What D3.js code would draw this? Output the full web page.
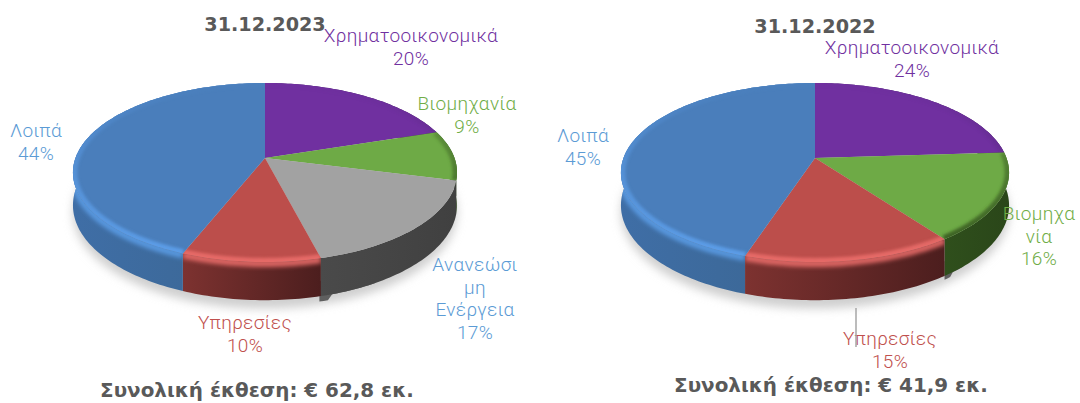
<!DOCTYPE html>
<html>
<head>
<meta charset="utf-8">
<script src="https://cdn.jsdelivr.net/npm/d3@7"></script>
<style>
  html, body { margin: 0; padding: 0; background: #fff; }
  svg { display: block; }
</style>
</head>
<body>
<svg id="vis"></svg>
<script>
const WIDTH = 1080;
const HEIGHT = 403;

const titulos = ["31.12.2023", "31.12.2022"];
const totales = ["Συνολική έκθεση: € 62,8 εκ.", "Συνολική έκθεση: € 41,9 εκ."];

const categorias2023 = ["Χρηματοοικονομικά", "Βιομηχανία", "Ανανεώσιμη Ενέργεια", "Υπηρεσίες", "Λοιπά"];
const valores2023 = [20, 9, 17, 10, 44];
const etiquetas2023 = [
  ["Χρηματοοικονομικά", "20%"],
  ["Βιομηχανία", "9%"],
  ["Ανανεώσι", "μη", "Ενέργεια", "17%"],
  ["Υπηρεσίες", "10%"],
  ["Λοιπά", "44%"],
];

const categorias2022 = ["Χρηματοοικονομικά", "Βιομηχανία", "Υπηρεσίες", "Λοιπά"];
const valores2022 = [24, 16, 15, 45];
const etiquetas2022 = [
  ["Χρηματοοικονομικά", "24%"],
  ["Βιομηχα", "νία", "16%"],
  ["Υπηρεσίες", "15%"],
  ["Λοιπά", "45%"],
];

const ESTILOS = {
  "Χρηματοοικονομικά": { top: "#7030a0", wall: ["#4a2070", "#3a1858"], rim: "#4c1f70", rimOp: 0.5, brillo: 0, label: "#7030a0" },
  "Βιομηχανία": { top: "#6eaa46", wall: ["#2f4f1c", "#2a4619"], rim: "#33551d", rimOp: 0.9, brillo: 0, label: "#70ad47" },
  "Ανανεώσιμη Ενέργεια": { top: "#a2a2a2", wall: ["#4a4a4a", "#404040"], rim: "#a2a2a2", rimOp: 0, brillo: 0, label: "#5b9bd5" },
  "Υπηρεσίες": { top: "#bc4e4b", wall: ["#7d3230", "#4c1e1e"], rim: "#ea6d6a", rimOp: 0.9, brillo: 0.9, label: "#c0504d" },
  "Λοιπά": { top: "#4a7ebb", wall: ["#3f6ea6", "#3b6692"], rim: "#5b9ce6", rimOp: 1, brillo: 0.9, label: "#5b9bd5" },
};

const GRAFICOS = [
  {
    cx: 265, categorias: categorias2023, valores: valores2023, etiquetas: etiquetas2023,
    titulo: titulos[0], tituloX: 265, tituloY: 31, total: totales[0], totalX: 257, totalY: 397,
    pos: [[411, 42], [467, 110], [475, 271], [245, 329], [36, 137]],
    Rx: 189.5, muesca: { a0: 150, a1: 166, extra: 1.14 },
  },
  {
    cx: 815, categorias: categorias2022, valores: valores2022, etiquetas: etiquetas2022,
    titulo: titulos[1], tituloX: 815, tituloY: 33, total: totales[1], totalX: 831, totalY: 392,
    pos: [[912, 54], [1039, 220], [890, 345], [583, 142]],
    Rx: 191.5, muesca: { a0: 137, a1: 144, extra: 1.1 },
  },
];

const CY = 158;
const RY = 87.15;
const K = 0.162; // perspectiva del disco
const PROFUNDIDAD = 32;

const svg = d3.select("#vis").attr("width", WIDTH).attr("height", HEIGHT);
const defs = svg.append("defs");

function crearBlur(id, sd) {
  defs.append("filter").attr("id", id)
    .attr("filterUnits", "userSpaceOnUse")
    .attr("x", 0).attr("y", 0).attr("width", WIDTH).attr("height", HEIGHT)
    .append("feGaussianBlur").attr("stdDeviation", sd);
}
crearBlur("blurRim", 1.8);
crearBlur("blurBrillo", 2.2);
crearBlur("blurSombra", 5);

// mascara vertical: el brillo del borde crece hacia el frente del disco
const gradRim = defs.append("linearGradient").attr("id", "fadeRim")
  .attr("gradientUnits", "userSpaceOnUse")
  .attr("x1", 0).attr("x2", 0).attr("y1", 90).attr("y2", 250);
gradRim.append("stop").attr("offset", "0%").attr("stop-color", "#fff").attr("stop-opacity", 0.05);
gradRim.append("stop").attr("offset", "50%").attr("stop-color", "#fff").attr("stop-opacity", 0.6);
gradRim.append("stop").attr("offset", "100%").attr("stop-color", "#fff").attr("stop-opacity", 1);
const mask = defs.append("mask").attr("id", "maskRim").attr("maskUnits", "userSpaceOnUse")
  .attr("x", 0).attr("y", 0).attr("width", WIDTH).attr("height", HEIGHT);
mask.append("rect").attr("width", WIDTH).attr("height", HEIGHT).attr("fill", "url(#fadeRim)");

function proyectar(g, angulo, r, z) {
  const u = r * Math.sin(angulo);
  const v = -r * Math.cos(angulo);
  const w = 1 - K * v;
  return [g.cx + (g.Rx * u) / w, CY + (RY * v) / w + (z * PROFUNDIDAD) / w];
}

function muestras(a0, a1) {
  const n = Math.max(2, Math.ceil(Math.abs(a1 - a0) / 0.02));
  return d3.range(n + 1).map((i) => a0 + ((a1 - a0) * i) / n);
}

const linea = d3.line().curve(d3.curveLinear);

function dibujar(g, idx) {
  const cont = svg.append("g");
  const pie = d3.pie().sort(null).value((d) => d)(g.valores);

  // sombra
  cont.append("path")
    .attr("d", linea(muestras(0, 2 * Math.PI).map((a) => proyectar(g, a, 1.0, 1.22))) + "Z")
    .attr("fill", "#cfcfcf")
    .attr("filter", "url(#blurSombra)");

  // muesca que asoma bajo la pared
  const m = g.muesca;
  const a0m = (m.a0 * Math.PI) / 180;
  const a1m = (m.a1 * Math.PI) / 180;
  cont.append("path")
    .attr("d", linea([
      ...muestras(a0m, a1m).map((a) => proyectar(g, a, 1, 0.6)),
      ...muestras(a1m, a0m).map((a) => proyectar(g, a, 1, a > a1m - 0.05 ? m.extra : 1)),
    ]) + "Z")
    .attr("fill", "#5f5f5f");

  // paredes
  pie.forEach((d, i) => {
    const est = ESTILOS[g.categorias[i]];
    const arriba = muestras(d.startAngle, d.endAngle).map((a) => proyectar(g, a, 1, 0));
    const abajo = muestras(d.endAngle, d.startAngle).map((a) => proyectar(g, a, 1, 1));
    const xs = arriba.map((p) => p[0]);
    const id = `pared${idx}_${i}`;
    const grad = defs.append("linearGradient").attr("id", id)
      .attr("gradientUnits", "userSpaceOnUse")
      .attr("x1", d3.min(xs)).attr("x2", d3.max(xs)).attr("y1", 0).attr("y2", 0);
    grad.append("stop").attr("offset", "0%").attr("stop-color", est.wall[0]);
    grad.append("stop").attr("offset", "100%").attr("stop-color", est.wall[1]);
    const forma = linea([...arriba, ...abajo]) + "Z";
    cont.append("path").attr("d", forma).attr("fill", `url(#${id})`);

    if (est.brillo > 0) {
      // brillo difuso al comienzo de la pared
      defs.append("clipPath").attr("id", `clipPared${idx}_${i}`).append("path").attr("d", forma);
      cont.append("g").attr("clip-path", `url(#clipPared${idx}_${i})`)
        .append("path")
        .attr("d", linea(muestras(d.startAngle, d.endAngle).map((a) => proyectar(g, a, 1, 0.04))))
        .attr("fill", "none")
        .attr("stroke", est.rim)
        .attr("stroke-opacity", est.brillo)
        .attr("stroke-width", 7)
        .attr("filter", "url(#blurBrillo)");
    }
  });

  // caras superiores
  pie.forEach((d, i) => {
    const est = ESTILOS[g.categorias[i]];
    const puntos = [[g.cx, CY], ...muestras(d.startAngle, d.endAngle).map((a) => proyectar(g, a, 1, 0))];
    const clipId = `clip${idx}_${i}`;
    defs.append("clipPath").attr("id", clipId).append("path").attr("d", linea(puntos) + "Z");
    cont.append("path").attr("d", linea(puntos) + "Z").attr("fill", est.top);
    cont.append("g").attr("clip-path", `url(#${clipId})`)
      .append("g").attr("mask", "url(#maskRim)")
      .append("path")
      .attr("d", linea(muestras(d.startAngle, d.endAngle).map((a) => proyectar(g, a, 0.995, 0))))
      .attr("fill", "none")
      .attr("stroke", est.rim)
      .attr("stroke-opacity", est.rimOp)
      .attr("stroke-width", 7)
      .attr("filter", "url(#blurRim)");
  });

  // etiquetas
  g.etiquetas.forEach((lineas, i) => {
    const est = ESTILOS[g.categorias[i]];
    const t = svg.append("text")
      .attr("text-anchor", "middle")
      .style("font-family", "Roboto, sans-serif")
      .style("font-weight", 300)
      .style("font-size", "19px")
      .style("letter-spacing", "0.35px")
      .attr("fill", est.label);
    lineas.forEach((txt, j) => {
      t.append("tspan").attr("x", g.pos[i][0]).attr("y", g.pos[i][1] + j * 22.6).text(txt);
    });
  });

  svg.append("text")
    .attr("x", g.tituloX).attr("y", g.tituloY)
    .attr("text-anchor", "middle")
    .style("font-family", "'DejaVu Sans', sans-serif")
    .style("font-weight", "bold")
    .style("font-size", "19.2px")
    .attr("fill", "#595959")
    .text(g.titulo);

  svg.append("text")
    .attr("x", g.totalX).attr("y", g.totalY)
    .attr("text-anchor", "middle")
    .style("font-family", "'DejaVu Sans', sans-serif")
    .style("font-weight", "bold")
    .style("font-size", "19.9px")
    .attr("fill", "#595959")
    .text(g.total);
}

GRAFICOS.forEach(dibujar);

// linea guia de Υπηρεσίες 2022
svg.append("line")
  .attr("x1", 856).attr("x2", 856).attr("y1", 308).attr("y2", 347)
  .attr("stroke", "#a6a6a6").attr("stroke-width", 1.5);
</script>
</body>
</html>
